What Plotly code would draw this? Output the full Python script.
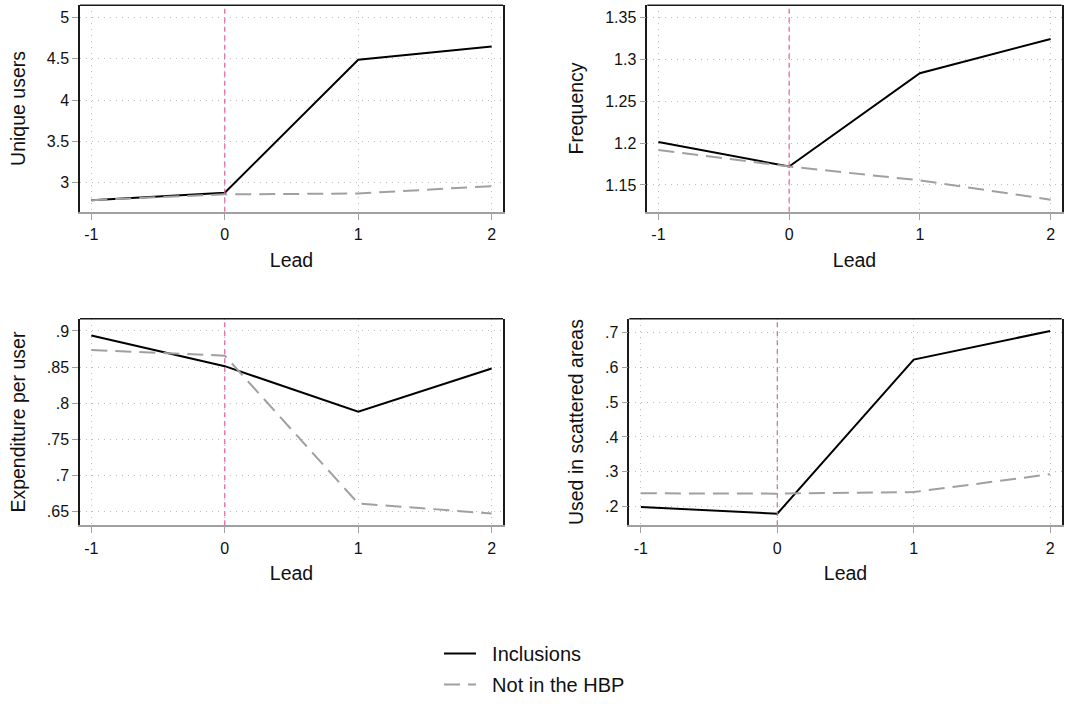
import plotly.graph_objects as go

# ---------------- data ----------------
lead = [-1, 0, 1, 2]

unique_incl = [2.79, 2.88, 4.49, 4.65]
unique_not = [2.79, 2.86, 2.87, 2.96]

freq_incl = [1.2015, 1.172, 1.2836, 1.3246]
freq_not = [1.1918, 1.172, 1.1555, 1.1324]

exp_incl = [0.8938, 0.8514, 0.7883, 0.8482]
exp_not = [0.8738, 0.8659, 0.6617, 0.6477]

scat_incl = [0.199, 0.180, 0.6216, 0.7037]
scat_not = [0.2385, 0.2375, 0.242, 0.293]

series_names = ["Inclusions", "Not in the HBP"]
panel_titles = ["Unique users", "Frequency", "Expenditure per user", "Used in scattered areas"]
x_tickvals = [-1, 0, 1, 2]
x_ticktext = ["-1", "0", "1", "2"]
y_ticks = [
    ([3, 3.5, 4, 4.5, 5], ["3", "3.5", "4", "4.5", "5"]),
    ([1.15, 1.2, 1.25, 1.3, 1.35], ["1.15", "1.2", "1.25", "1.3", "1.35"]),
    ([0.65, 0.7, 0.75, 0.8, 0.85, 0.9], [".65", ".7", ".75", ".8", ".85", ".9"]),
    ([0.2, 0.3, 0.4, 0.5, 0.6, 0.7], [".2", ".3", ".4", ".5", ".6", ".7"]),
]
y_ranges = [[2.65, 5.15], [1.118, 1.365], [0.6314, 0.9168], [0.1466, 0.7385]]
panels = [
    (unique_incl, unique_not),
    (freq_incl, freq_not),
    (exp_incl, exp_not),
    (scat_incl, scat_not),
]

# ---------------- layout geometry ----------------
W, H = 1079, 704
boxes = [  # left, right, top, bottom in px
    (80, 503, 5.3, 216),
    (647.3, 1061.7, 5.3, 216),
    (80, 503, 325.3, 536),
    (629.3, 1061.7, 325.3, 536),
]

FONT = "Liberation Sans, Arial, sans-serif"
BLACK = "#1a1a1a"
GRAY_AX = "#a0a0a0"
GRID = "#bdbdbd"
PINK = "#e0609e"
TICKSZ = 16
TITLESZ = 19.5
NBSP = "\u00a0\u00a0"

fig = go.Figure()
layout = dict(
    width=W, height=H,
    margin=dict(l=0, r=0, t=0, b=0),
    paper_bgcolor="white", plot_bgcolor="white",
    font=dict(family=FONT, color="#111", size=TICKSZ),
    showlegend=True,
    legend=dict(
        x=439 / W, y=1 - 647 / H, xanchor="left", yanchor="top",
        font=dict(size=20, family=FONT, color="#111"),
        traceorder="grouped", tracegroupgap=2,
        bgcolor="rgba(0,0,0,0)", itemwidth=32,
    ),
)
shapes = []

for i, ((yi, yn), box) in enumerate(zip(panels, boxes)):
    n = "" if i == 0 else str(i + 1)
    xa, ya = "x" + n, "y" + n
    l, r, t, b = box
    fig.add_trace(go.Scatter(
        x=lead, y=yi, mode="lines", name=NBSP + series_names[0],
        line=dict(color="#000000", width=2),
        xaxis=xa, yaxis=ya, showlegend=(i == 0), legendgroup="g1",
    ))
    fig.add_trace(go.Scatter(
        x=lead, y=yn, mode="lines", name=NBSP + series_names[1],
        line=dict(color="#a0a0a0", width=2, dash="16px,8px"),
        xaxis=xa, yaxis=ya, showlegend=(i == 0), legendgroup="g2",
    ))
    layout["xaxis" + n] = dict(
        domain=[l / W, r / W], anchor=ya, range=[-1.085, 2.085],
        tickvals=x_tickvals, ticktext=x_ticktext,
        showgrid=True, gridcolor=GRID, griddash="1px,5px", gridwidth=1,
        zeroline=False, showline=True, linecolor=GRAY_AX, linewidth=2,
        ticks="outside", ticklen=6, tickcolor=GRAY_AX, tickwidth=1,
        tickfont=dict(size=TICKSZ, color="#111"), ticklabelstandoff=1,
        title=dict(text="Lead", font=dict(size=TITLESZ, color="#111"), standoff=11),
    )
    tv, tt = y_ticks[i]
    layout["yaxis" + n] = dict(
        domain=[1 - b / H, 1 - t / H], anchor=xa, range=y_ranges[i],
        tickvals=tv, ticktext=tt,
        showgrid=True, gridcolor=GRID, griddash="1px,5px", gridwidth=1,
        zeroline=False, showline=True, linecolor=BLACK, linewidth=1.5, mirror=True,
        ticks="outside", ticklen=6, tickcolor=GRAY_AX, tickwidth=1,
        tickfont=dict(size=TICKSZ, color="#111"),
        title=dict(text=panel_titles[i], font=dict(size=TITLESZ, color="#111"), standoff=16),
    )
    # top border of the plot region
    shapes.append(dict(type="line", xref=xa + " domain", yref=ya + " domain",
                       x0=0, x1=1, y0=1, y1=1, line=dict(color=BLACK, width=1.5)))
    # reference line at lead 0
    shapes.append(dict(type="line", xref=xa, yref=ya + " domain",
                       x0=0, x1=0, y0=0, y1=1,
                       line=dict(color=PINK, width=1.2, dash="5px,4px")))

layout["shapes"] = shapes
fig.update_layout(**layout)
fig.write_html("out.html")
